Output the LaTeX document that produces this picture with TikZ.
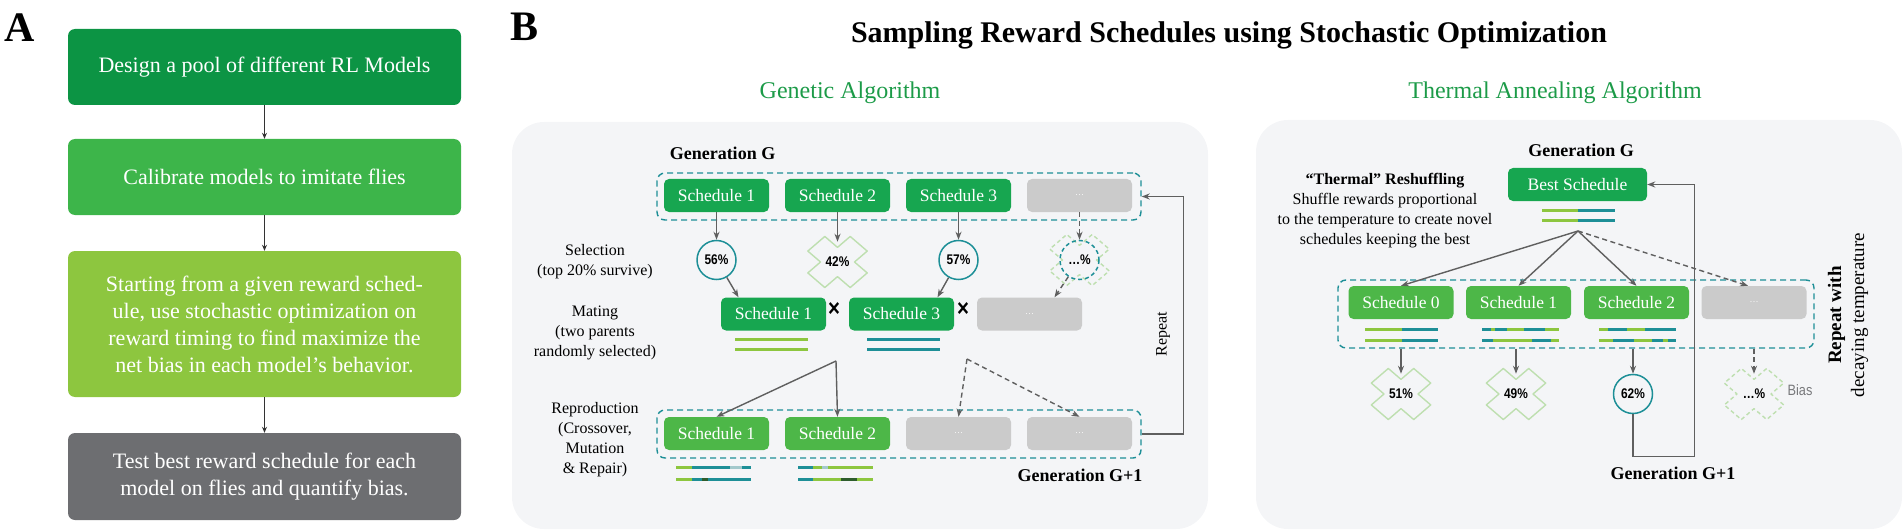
\documentclass[tikz,border=0pt]{standalone}
\usepackage{fontspec}
\setmainfont{Liberation Serif}
\newfontfamily\pctfont[FakeStretch=0.85]{Liberation Sans}
\definecolor{rsStageA}{HTML}{0C9444}
\definecolor{rsStageB}{HTML}{3DB54A}
\definecolor{rsStageC}{HTML}{8DC63F}
\definecolor{rsStageD}{HTML}{6D6E71}
\definecolor{rsSched}{HTML}{17A650}
\definecolor{rsSchedLight}{HTML}{4DB748}
\definecolor{rsEmpty}{HTML}{CBCBCB}
\definecolor{rsPaper}{HTML}{F4F5F7}
\definecolor{rsTeal}{HTML}{1D8F97}
\definecolor{rsLime}{HTML}{8DC63F}
\definecolor{rsPale}{HTML}{A3C9CC}
\definecolor{rsDark}{HTML}{2E5D2C}
\definecolor{rsCross}{HTML}{BEDFB0}
\definecolor{rsArrow}{HTML}{5F5F5F}
\definecolor{rsHead}{HTML}{1C9B48}
\definecolor{rsBias}{HTML}{77787B}
\usetikzlibrary{
	arrows.meta,
	positioning
}
\tikzset{
	etapa/.style={
		rounded corners=7pt,
		minimum width=393pt,
		align=center,
		text=white,
		inner sep=4pt,
		font=\fontsize{22}{27}\selectfont
	},
	horario/.style={
		fill=rsSched,
		rounded corners=5pt,
		minimum width=105pt,
		minimum height=33pt,
		inner sep=0pt,
		text=white,
		font=\fontsize{17.5}{20}\selectfont
	},
	horarioClaro/.style={
		horario,
		fill=rsSchedLight
	},
	horarioVacio/.style={
		horario,
		fill=rsEmpty,
		font=\fontsize{9}{10}\selectfont
	},
	grupo/.style={
		draw=rsTeal,
		dash pattern=on 6pt off 4pt,
		line width=1.4pt,
		rounded corners=8pt,
		inner sep=0pt
	},
	panel/.style={
		fill=rsPaper,
		rounded corners=32pt
	},
	aptitud/.style={
		circle,
		draw=rsTeal,
		line width=1.5pt,
		minimum size=39pt,
		inner sep=0pt,
		font=\pctfont\bfseries\fontsize{14}{16}\selectfont
	},
	descartado/.style={
		aptitud,
		draw=none
	},
	descarte/.style={
		draw=rsCross,
		line width=1.4pt,
		line join=round
	},
	flecha/.style={
		-{Stealth[length=8pt,width=6pt]},
		line width=1.4pt,
		rsArrow
	},
	flechaSecundaria/.style={
		flecha,
		dash pattern=on 5pt off 3.5pt
	},
	flechaA/.style={
		-{Stealth[length=6pt,width=5pt]},
		line width=1pt,
		black!80
	},
	barra/.style={
		line width=3pt
	},
	etiqueta/.style={
		align=center,
		font=\fontsize{16}{20}\selectfont
	},
	generacion/.style={
		font=\bfseries\fontsize{18}{22}\selectfont
	}
}
\newcommand{\cruz}[2][]{\draw[descarte,#1,shift={(#2.center)},yscale=0.86] (-12.7,29.7) -- (0,17) -- (12.7,29.7) -- (29.7,12.7) -- (17,0) -- (29.7,-12.7) -- (12.7,-29.7) -- (0,-17) -- (-12.7,-29.7) -- (-29.7,-12.7) -- (-17,0) -- (-29.7,12.7) -- cycle;}

\begin{document}
\begin{tikzpicture}[x=1pt, y=-1pt]
		\useasboundingbox (0,0) rectangle (1904,532);
		% A
		\node[font=\bfseries\fontsize{42}{42}\selectfont] (labA) at (20,28) {A};
		\node[etapa, fill=rsStageA, minimum height=76pt] (a1) at (264.5,67) {Design a pool of different RL Models};
		\node[etapa, fill=rsStageB, minimum height=76pt] (a2) at (264.5,177) {Calibrate models to imitate flies};
		\node[etapa, fill=rsStageC, minimum height=146pt] (a3) at (264.5,324) {Starting from a given reward sched-\\ule, use stochastic optimization on\\reward timing to find maximize the\\net bias in each model’s behavior.};
		\node[etapa, fill=rsStageD, minimum height=87pt] (a4) at (264.5,476.5) {Test best reward schedule for each\\model on flies and quantify bias.};
		\draw[flechaA] (a1) -- (a2);
		\draw[flechaA] (a2) -- (a3);
		\draw[flechaA] (a3) -- (a4);
		% B
		\node[font=\bfseries\fontsize{42}{42}\selectfont] (labB) at (525,27) {B};
		\node[font=\bfseries\fontsize{30}{36}\selectfont, anchor=base] (titulo) at (1229,43) {Sampling Reward Schedules using Stochastic Optimization};
		\node[font=\fontsize{24}{28}\selectfont, text=rsHead, anchor=base] (tGen) at (850,99) {Genetic Algorithm};
		\node[font=\fontsize{24}{28}\selectfont, text=rsHead, anchor=base] (tTerm) at (1555,99) {Thermal Annealing Algorithm};
		\fill[panel] (512,122) rectangle (1208,529);
		\fill[panel] (1256,120) rectangle (1902,529);
		% genetico
		\node[generacion] (genG) at (722.5,153) {Generation G};
		\node[grupo, minimum width=484pt, minimum height=47pt] (grpG) at (899,196.5) {};
		\node[horario] (s1) at (716.5,195.5) {Schedule 1};
		\node[horario] (s2) at (837.5,195.5) {Schedule 2};
		\node[horario] (s3) at (958.5,195.5) {Schedule 3};
		\node[horarioVacio] (sDots) at (1079.5,195.5) {\ldots};
		\node[aptitud] (f56) at (716.5,260) {56\%};
		\node[descartado] (f42) at (837.5,262) {42\%};
		\node[aptitud] (f57) at (958.5,260) {57\%};
		\node[descartado] (fDots) at (1079.5,260) {\ldots\%};
		\cruz{f42}
		\cruz[dash pattern=on 4pt off 3pt]{fDots}
		\draw[rsTeal, line width=1.5pt, dash pattern=on 4pt off 3pt] (fDots) circle (19.5);
		\draw[flecha] (s1) -- (f56);
		\draw[flecha] (s2) -- (f42);
		\draw[flecha] (s3) -- (f57);
		\draw[flechaSecundaria] (sDots) -- (fDots);
		\node[horario] (m1) at (773.5,314) {Schedule 1};
		\node[horario] (m3) at (901.5,314) {Schedule 3};
		\node[horarioVacio] (mDots) at (1029.5,314) {\ldots};
		\node[font=\pctfont\bfseries\fontsize{24}{24}\selectfont] (x1) at (834,310) {×};
		\node[font=\pctfont\bfseries\fontsize{24}{24}\selectfont] (x2) at (963,310) {×};
		\draw[flecha] (f56) -- ([xshift=-35pt]m1.north);
		\draw[flecha] (f57) -- ([xshift=36pt]m3.north);
		\draw[flechaSecundaria] (fDots) -- ([xshift=25pt]mDots.north);
		\foreach \y in {339,349} {
			\draw[barra, rsLime] (735,\y) -- (808,\y);
			\draw[barra, rsTeal] (867,\y) -- (940,\y);
		}
		\coordinate (cruce1) at (836,361);
		\coordinate (cruce2) at (967,359);
		\node[grupo, minimum width=484pt, minimum height=48pt] (grpG1) at (899,434) {};
		\node[horarioClaro] (r1) at (716.5,433.5) {Schedule 1};
		\node[horarioClaro] (r2) at (837.5,433.5) {Schedule 2};
		\node[horarioVacio] (r3) at (958.5,433.5) {\ldots};
		\node[horarioVacio] (r4) at (1079.5,433.5) {\ldots};
		\draw[flecha] (cruce1) -- (r1.north);
		\draw[flecha] (cruce1) -- (r2.north);
		\draw[flechaSecundaria] (cruce2) -- (r3.north);
		\draw[flechaSecundaria] (cruce2) -- (r4.north);
		\foreach \a/\b/\y/\c in {676/692/467/rsLime, 692/730/467/rsTeal, 730/742/467/rsPale, 742/751/467/rsTeal,
			676/692/479/rsLime, 692/702/479/rsTeal, 702/708/479/rsDark, 708/751/479/rsTeal,
			798/813/467/rsTeal, 813/822/467/rsLime, 822/828/467/rsPale, 828/873/467/rsLime,
			798/813/479/rsTeal, 813/841/479/rsLime, 841/857/479/rsDark, 857/873/479/rsLime}
			\draw[barra, \c] (\a,\y) -- (\b,\y);
		\node[etiqueta] (lblSel) at (595,262) {Selection\\(top 20\% survive)};
		\node[etiqueta] (lblMat) at (595,333) {Mating\\(two parents\\randomly selected)};
		\node[etiqueta] (lblRep) at (595,440) {Reproduction\\(Crossover,\\Mutation\\\& Repair)};
		\node[generacion] (genG1) at (1080,475) {Generation G+1};
		\draw[flecha] (grpG1.east) -- ++(42,0) |- (grpG.east);
		\node[etiqueta, rotate=90] (lblRepeat) at (1163,334) {Repeat};
		% recocido
		\node[generacion] (genGt) at (1581,150) {Generation G};
		\node[horario, minimum width=139pt] (bs) at (1577.5,184.5) {Best Schedule};
		\node[etiqueta] (lblTerm) at (1385,211) {\textbf{“Thermal” Reshuffling}\\Shuffle rewards proportional\\to the temperature to create novel\\schedules keeping the best};
		\coordinate (cruce3) at (1578,231);
		\node[grupo, minimum width=476pt, minimum height=68pt] (grpT) at (1576,314) {};
		\node[horarioClaro] (t0) at (1401,302.5) {Schedule 0};
		\node[horarioClaro] (t1) at (1518.5,302.5) {Schedule 1};
		\node[horarioClaro] (t2) at (1636.5,302.5) {Schedule 2};
		\node[horarioVacio] (t3) at (1754,302.5) {\ldots};
		\draw[flecha] (cruce3) -- (t0.north);
		\draw[flecha] (cruce3) -- (t1.north);
		\draw[flecha] (cruce3) -- (t2.north);
		\draw[flechaSecundaria] (cruce3) -- ([xshift=-6pt]t3.north);
		\foreach \a/\b/\y/\c in {1542/1578/210/rsLime, 1578/1615/210/rsTeal, 1542/1578/220/rsLime, 1578/1615/220/rsTeal,
			1365/1402/329/rsLime, 1402/1438/329/rsTeal, 1365/1402/340/rsLime, 1402/1438/340/rsTeal,
			1482/1491/329/rsTeal, 1491/1495/329/rsLime, 1495/1507/329/rsTeal, 1507/1524/329/rsLime, 1524/1545/329/rsTeal, 1545/1559/329/rsLime,
			1482/1493/340/rsTeal, 1493/1532/340/rsLime, 1532/1551/340/rsTeal, 1551/1559/340/rsLime,
			1599/1608/329/rsLime, 1608/1627/329/rsTeal, 1627/1645/329/rsLime, 1645/1676/329/rsTeal,
			1599/1613/340/rsLime, 1613/1634/340/rsTeal, 1634/1652/340/rsLime, 1652/1663/340/rsTeal, 1663/1668/340/rsLime, 1668/1676/340/rsTeal}
			\draw[barra, \c] (\a,\y) -- (\b,\y);
		\node[descartado] (f51) at (1401,394) {51\%};
		\node[descartado] (f49) at (1516,394) {49\%};
		\node[aptitud] (f62) at (1633,394) {62\%};
		\node[descartado] (fT) at (1754,394) {\ldots\%};
		\cruz{f51}
		\cruz{f49}
		\cruz[dash pattern=on 4pt off 3pt]{fT}
		\draw[flecha] (grpT.south -| f51) -- (f51);
		\draw[flecha] (grpT.south -| f49) -- (f49);
		\draw[flecha] (grpT.south -| f62) -- (f62);
		\draw[flechaSecundaria] (grpT.south -| fT) -- (fT);
		\node[font=\pctfont\fontsize{15}{15}\selectfont, text=rsBias] (bias) at (1800,390) {Bias};
		\draw[flecha] (f62.south) -- ++(0,42) -| ([xshift=47pt]bs.east) -- (bs.east);
		\node[generacion] (genGt1) at (1673,473) {Generation G+1};
		\node[rotate=90, align=center, font=\fontsize{19}{23}\selectfont] (lblDecay) at (1848,315) {\textbf{Repeat with}\\decaying temperature};
	\end{tikzpicture}
\end{document}
